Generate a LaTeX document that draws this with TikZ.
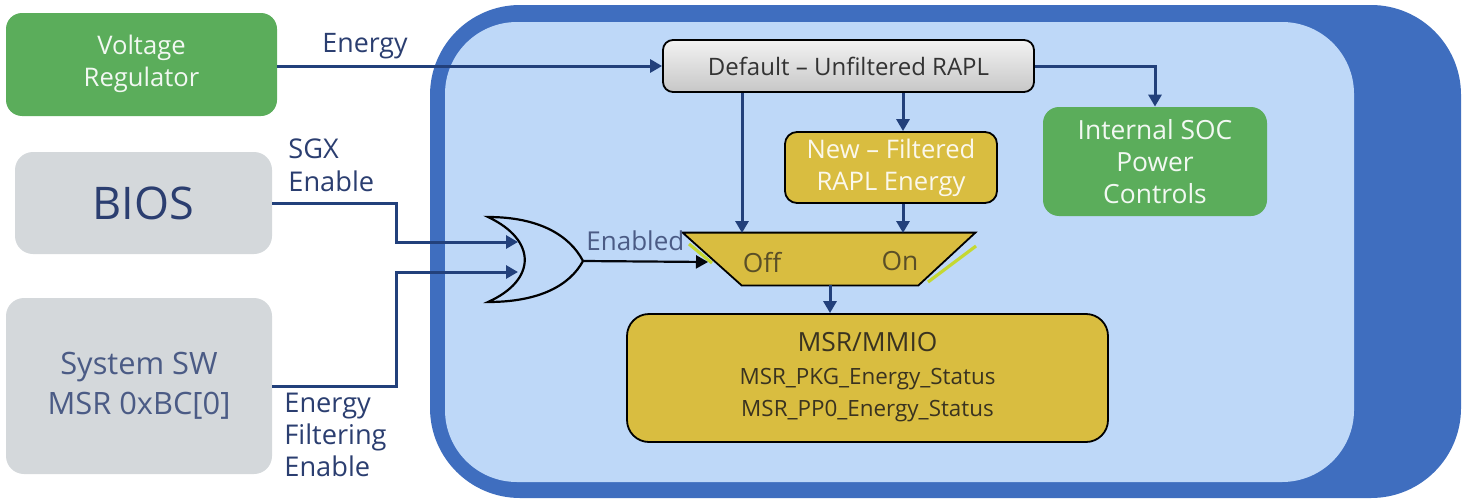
\documentclass[tikz,border=0pt]{standalone}
\usepackage{fontspec}
\setmainfont{Open Sans}
\usetikzlibrary{arrows.meta,calc}
\definecolor{outerblue}{HTML}{3F6EBF}
\definecolor{innerblue}{HTML}{BED8F8}
\definecolor{boxgreen}{HTML}{5BAD5B}
\definecolor{boxgray}{HTML}{D4D8DB}
\definecolor{boxgold}{HTML}{D9BD40}
\definecolor{navy}{HTML}{22407B}
\definecolor{lbl}{HTML}{2B3E70}
\definecolor{darktxt}{HTML}{3A3320}
\definecolor{lime}{HTML}{C5D832}
\tikzset{
  greenbox/.style={fill=boxgreen, rounded corners=8pt, text=white!92!boxgreen, align=center, inner sep=0pt},
  graybox/.style={fill=boxgray, rounded corners=9pt, align=center, inner sep=0pt},
  goldbox/.style={fill=boxgold, draw=black, line width=0.9pt, align=center, inner sep=0pt},
  arr/.style={draw=navy, line width=1.5pt, -{Triangle[length=6pt,width=6.5pt]}},
  lab/.style={text=lbl, align=left, inner sep=0pt, anchor=north west},
}
\begin{document}
\begin{tikzpicture}[x=0.5pt,y=-0.5pt]
\useasboundingbox (0,0) rectangle (1466,503);
% chip background
\fill[outerblue, rounded corners=45pt] (430,5) rectangle (1461,498);
\fill[innerblue, rounded corners=36pt] (445,22) rectangle (1354,482);

% left boxes
\node[greenbox, minimum width=135.5pt, minimum height=51.5pt, font=\fontsize{12.8pt}{16pt}\selectfont] (vr) at (141.5,64.5) {\raisebox{-1pt}{\begin{tabular}{@{}c@{}}Voltage\\Regulator\end{tabular}}};
\node[graybox, minimum width=128.5pt, minimum height=51pt, text=lbl, font=\fontsize{22.5pt}{26pt}\selectfont] (bios) at (143.5,203) {BIOS};
\node[graybox, minimum width=133pt, minimum height=88pt, text=lbl!85!white, font=\fontsize{15.4pt}{20pt}\selectfont] (sys) at (139,386) {System SW\\MSR 0xBC[0]};

% inner boxes
\node[draw=black, line width=0.9pt, rounded corners=5pt, top color=white!95!black, bottom color=white!78!black, minimum width=185.5pt, minimum height=26pt, inner sep=0pt, text=black!80, font=\fontsize{12pt}{14pt}\selectfont] (def) at (848.5,66) {Default -- Unfiltered RAPL};
\node[goldbox, rounded corners=6pt, minimum width=106pt, minimum height=35.5pt, text=white!90!boxgold, font=\fontsize{12.8pt}{16pt}\selectfont] (new) at (891,167.5) {New -- Filtered\\RAPL Energy};
\node[greenbox, minimum width=112pt, minimum height=54.5pt, font=\fontsize{13.2pt}{16pt}\selectfont] (soc) at (1155,161.5) {Internal SOC\\Power\\Controls};
\node[goldbox, rounded corners=11pt, minimum width=240.5pt, minimum height=64pt, text=darktxt, font=\fontsize{11.2pt}{16pt}\selectfont] (msr) at (867.5,378) {\raisebox{-2pt}{\begin{tabular}{@{}c@{}}{\fontsize{13.2pt}{16pt}\selectfont MSR/MMIO}\\[0.5pt]MSR\_PKG\_Energy\_Status\\MSR\_PP0\_Energy\_Status\end{tabular}}};

% mux (trapezoid)
\node[minimum width=146pt, minimum height=26pt, inner sep=0pt] (mux) at (829,259) {};
\draw[lime, line width=1.6pt] (689,244) -- (712,263);
\draw[lime, line width=1.6pt] (976,246) -- (928,282);
\draw[fill=boxgold, line width=0.9pt] (mux.north west) -- (mux.north east) -- ($(mux.south east)+(-57,0)$) -- ($(mux.south west)+(59,0)$) -- cycle;
\node[text=darktxt!80!boxgold, font=\fontsize{13.2pt}{14pt}\selectfont] (off) at (762,263) {Off};
\node[text=darktxt!80!boxgold, font=\fontsize{13.2pt}{14pt}\selectfont] (on) at (900,261) {On};
\coordinate (muxOff) at (742,233);
\coordinate (muxOn) at (903,233);
\coordinate (muxIn) at (708,262);
\coordinate (muxOut) at (830,285);

% OR gate
\coordinate (orIn1) at (518,242);
\coordinate (orIn2) at (518,272);
\coordinate (orOut) at (583,261);
\draw[black, line width=1.1pt, fill=innerblue] (488,217) .. controls (537,240) and (537,280) .. (488,302)
  .. controls (540,302) and (570,285) .. (orOut)
  .. controls (570,236) and (540,217) .. cycle;

% connectors
\draw[arr] (vr.east |- def.west) -- (def.west);
\draw[arr] (def.east) -| (soc.north);
\draw[arr] (def.south -| muxOff) -- (muxOff);
\draw[arr] (def.south -| muxOn) -- (new.north -| muxOn);
\draw[arr] (new.south -| muxOn) -- (muxOn);
\draw[arr] (muxOut) -- (msr.north -| muxOut);
\draw[arr] (bios.east) -- ++(124,0) |- (orIn1);
\draw[arr] (sys.east) -- ++(124,0) |- (orIn2);
\draw[draw=black!90!navy, line width=1.1pt, -{Triangle[length=6pt,width=6.5pt]}] (orOut) -- (muxIn);

% labels
\node[lab, font=\fontsize{13.4pt}{16pt}\selectfont] (lEnergy) at (322,33) {Energy};
\node[lab, font=\fontsize{13.6pt}{16.5pt}\selectfont] (lSgx) at (288,138) {SGX\\Enable};
\node[lab, font=\fontsize{13.6pt}{16pt}\selectfont] (lEfe) at (284,393) {Energy\\Filtering\\Enable};
\node[lab, text=lbl!85!white, font=\fontsize{13pt}{16pt}\selectfont] (lEn) at (586,230) {Enabled};
\end{tikzpicture}
\end{document}
